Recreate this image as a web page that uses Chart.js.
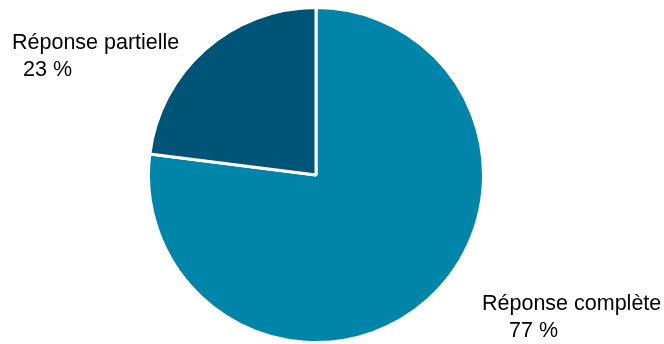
<!DOCTYPE html>
<html>
  <head>
    <meta charset="utf-8">
    <title>Réponse</title>
    <script src="https://cdn.jsdelivr.net/npm/chart.js"></script>
    <style>
      html, body { margin: 0; padding: 0; background: #fff; overflow: hidden; }
    </style>
  </head>
  <body>
    <canvas id="pie" width="664" height="344"></canvas>
    <script>
      // data
      const categories = ['Réponse complète', 'Réponse partielle'];
      const shares = [77, 23];
      const colors = ['#0085A8', '#005577'];

      // label positions (text only)
      const labelSpots = [
        { x: 482, y: 310, indent: 27 },
        { x: 12, y: 49, indent: 11 }
      ];

      const sideLabels = {
        id: 'sideLabels',
        afterDraw(chart) {
          const ctx = chart.ctx;
          ctx.save();
          ctx.font = '21.5px "Liberation Sans", Arial, sans-serif';
          ctx.fillStyle = '#000';
          ctx.textBaseline = 'alphabetic';
          chart.data.labels.forEach((lab, i) => {
            const p = labelSpots[i];
            ctx.fillText(lab, p.x, p.y);
            ctx.fillText(chart.data.datasets[0].data[i] + ' %', p.x + p.indent, p.y + 27);
          });
          ctx.restore();
        }
      };

      new Chart(document.getElementById('pie'), {
        type: 'pie',
        data: {
          labels: categories,
          datasets: [{
            data: shares,
            backgroundColor: colors,
            borderColor: '#ffffff',
            borderWidth: 3
          }]
        },
        options: {
          responsive: false,
          animation: false,
          layout: { padding: { left: 145, right: 177, top: 6, bottom: -4 } },
          plugins: {
            legend: { display: false },
            tooltip: { enabled: false }
          }
        },
        plugins: [sideLabels]
      });
    </script>
  </body>
</html>
